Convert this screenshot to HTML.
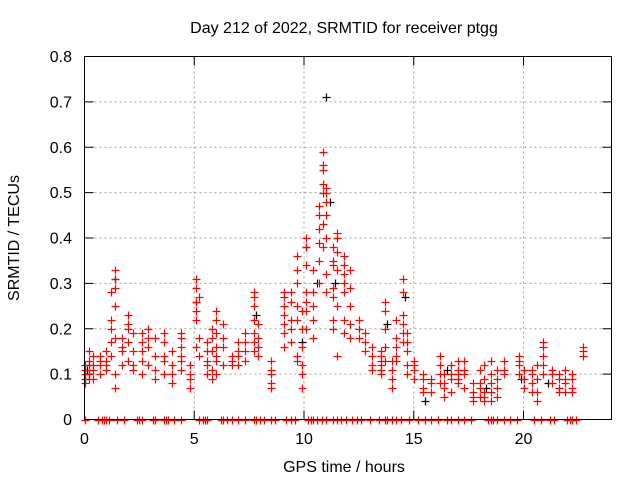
<!DOCTYPE html>
<html><head><meta charset="utf-8"><style>
body{margin:0;background:#fff;}
svg{display:block;font-family:"Liberation Sans",sans-serif;}
</style></head><body>
<svg id="chart" width="640" height="480">
<text x="344" y="33" font-size="16" text-anchor="middle">Day 212 of 2022, SRMTID for receiver ptgg</text>
<text x="344" y="472" font-size="16" text-anchor="middle">GPS time / hours</text>
<text transform="translate(19,238) rotate(-90)" font-size="16" text-anchor="middle">SRMTID / TECUs</text>
<g id="grid"></g><g id="ticks"></g><g id="marks"></g>
<rect x="84.5" y="56.5" width="527" height="363" fill="none" stroke="#000"/>
</svg>
<script>
const xTicks=[0,5,10,15,20];
const yTicks=[0,0.1,0.2,0.3,0.4,0.5,0.6,0.7,0.8];
const yTickLabels=["0","0.1","0.2","0.3","0.4","0.5","0.6","0.7","0.8"];
const redTimes=[0.0,0.2,0.4,0.7,1.0,1.2,1.4,1.7,2.0,2.2,2.6,2.9,3.2,3.6,4.0,4.4,4.8,5.1,5.2,5.6,5.8,6.0,6.3,6.7,7.0,7.3,7.7,7.9,8.5,9.1,9.4,9.7,9.9,10.1,10.4,10.7,10.85,11.0,11.3,11.5,11.8,12.1,12.5,12.8,13.1,13.5,13.7,14.0,14.2,14.5,14.7,15.0,15.4,15.8,16.2,16.4,16.7,17.0,17.3,17.7,18.0,18.2,18.5,18.8,19.1,19.8,20.0,20.4,20.6,20.9,21.3,21.6,21.9,22.2,22.7];
const redValues=[[.10,.12,.09,.11,.08],[.13,.10,.09,.15,.12],[.11,.14,.12,.09],[.12,.14,.10,.13],[.13,.11,.15,.12],[.17,.20,.22,.28,.14],[.25,.29,.33,.31,.10,.07,.18],[.15,.18,.12,.16],[.20,.23,.21,.17,.13],[.19,.15,.11,.12],[.17,.19,.13,.10,.15],[.18,.20,.16,.12],[.11,.09,.14,.18],[.14,.17,.19,.13,.10],[.12,.15,.10,.08],[.18,.19,.16,.13,.14,.11],[.09,.07,.12,.10],[.16,.22,.26,.31,.29,.24],[.18,.14,.27],[.13,.10,.15,.17,.12],[.20,.18,.15,.11,.09],[.22,.24,.19,.16,.13,.10,.14],[.18,.21,.16,.12],[.12,.14,.13],[.17,.15,.12,.14],[.15,.13,.17,.19],[.28,.25,.27,.22,.17,.15,.19],[.16,.18,.14,.21],[.11,.13,.08,.10,.07],[.28,.27,.25,.23,.21,.19,.16],[.22,.26,.28,.20,.17],[.36,.33,.30,.25,.22,.14,.13],[.24,.20,.16,.12,.10,.07],[.38,.40,.34,.28,.26,.24,.20],[.25,.28,.22,.18,.33],[.45,.47,.42,.30,.35,.39],[.50,.52,.55,.56,.59,.43,.38],[.51,.50,.45,.48,.40,.32,.28],[.35,.34,.38,.29,.27,.22,.20],[.40,.41,.37,.33,.25,.14],[.30,.32,.34,.36,.28,.22,.19],[.33,.29,.25,.21,.18],[.22,.20,.18],[.17,.15,.19],[.12,.14,.11,.16],[.13,.15,.10,.12,.14,.11],[.26,.24,.20,.16,.13],[.09,.07,.11,.13],[.16,.14,.18,.22,.13],[.19,.21,.23,.28,.31,.17],[.19,.17,.15,.12,.10],[.11,.13,.12,.09],[.10,.07,.06,.09],[.08,.06,.09],[.12,.14,.10,.08],[.05,.08,.10,.07],[.06,.09,.12,.10],[.08,.10,.13,.11,.09],[.07,.10,.13,.11],[.06,.04,.08,.05],[.11,.08,.05,.07],[.12,.09,.06,.04,.05],[.06,.08,.10,.13,.04],[.09,.11,.07,.05],[.13,.11,.10],[.14,.13,.12,.10],[.11,.09,.07],[.08,.06,.10,.11],[.04,.06,.09,.12],[.16,.17,.14,.10,.12],[.10,.11,.08],[.09,.07,.06,.10],[.08,.06,.09,.11],[.07,.06,.09,.10],[.15,.16,.14]];
const blackTimes=[0.1,1.4,5.1,7.8,9.9,10.1,10.6,11.0,11.2,11.4,13.8,14.6,15.5,16.5,18.3,19.9,21.1];
const blackValues=[0.11,0.31,0.26,0.23,0.17,0.38,0.30,0.71,0.48,0.30,0.21,0.27,0.04,0.11,0.07,0.09,0.08];
const zeroTimes=[0.0,0.6,0.8,0.9,1.0,1.1,1.5,1.8,2.4,2.5,2.6,3.1,3.2,3.6,3.7,3.8,4.1,4.4,5.2,5.4,5.5,5.6,6.2,6.3,6.5,6.7,7.0,7.3,7.7,7.8,8.0,8.2,8.5,8.7,9.2,9.4,9.6,10.2,10.3,10.4,10.6,10.8,11.0,11.3,11.5,11.7,11.9,12.2,12.4,12.6,13.0,13.4,13.7,13.8,14.0,14.2,14.4,14.8,15.2,15.5,15.8,16.1,16.5,16.7,17.0,17.3,17.6,18.4,18.5,18.6,18.8,19.1,19.4,19.7,20.5,20.8,21.2,21.4,22.0,22.1,22.2,22.4];
const X=t=>84.5+t*21.95, Y=v=>419.5-v*453.75;
const NS="http://www.w3.org/2000/svg";
function mk(tag,parent,attrs){const e=document.createElementNS(NS,tag);for(const k in attrs)e.setAttribute(k,attrs[k]);parent.appendChild(e);return e;}
const grid=document.getElementById('grid'),ticks=document.getElementById('ticks'),marks=document.getElementById('marks');
xTicks.forEach(t=>{const x=X(t);
 if(t>0){const g=mk('line',grid,{x1:x,x2:x,y1:56.5,y2:419.5,stroke:'#a0a0a0','stroke-dasharray':'2,3'});
 
 }
 mk('line',ticks,{x1:x,x2:x,y1:419.5,y2:410.5,stroke:'#000'});
 mk('line',ticks,{x1:x,x2:x,y1:56.5,y2:65.5,stroke:'#000'});
 const l=mk('text',ticks,{x:x,y:444,'font-size':16,'text-anchor':'middle'});l.textContent=String(t);
 
 });
yTicks.forEach((v,i)=>{const y=Y(v);
 if(v>0&&v<0.8){const g=mk('line',grid,{x1:84.5,x2:611.5,y1:y,y2:y,stroke:'#a0a0a0','stroke-dasharray':'2,3'});
 
 }
 mk('line',ticks,{x1:84.5,x2:93.5,y1:y,y2:y,stroke:'#000'});
 mk('line',ticks,{x1:611.5,x2:602.5,y1:y,y2:y,stroke:'#000'});
 const l=mk('text',ticks,{x:72,y:y+5.5,'font-size':16,'text-anchor':'end'});l.textContent=yTickLabels[i];
 
 });
function cross(t,v,col,name){const x=Math.round(X(t))+0.5,y=Math.round(Y(v))+0.5;
 const p=mk('path',marks,{d:`M${x-4},${y}H${x+4}M${x},${y-4}V${y+4}`,stroke:col,'stroke-width':1.2});
 
 }
blackTimes.forEach((t,i)=>cross(t,blackValues[i],'#000000','black-point'));
zeroTimes.forEach(t=>cross(t,0,'#ff0000','zero-point'));
redTimes.forEach((t,i)=>redValues[i].forEach(v=>cross(t,v,'#ff0000','red-point')));
</script>
</body></html>
